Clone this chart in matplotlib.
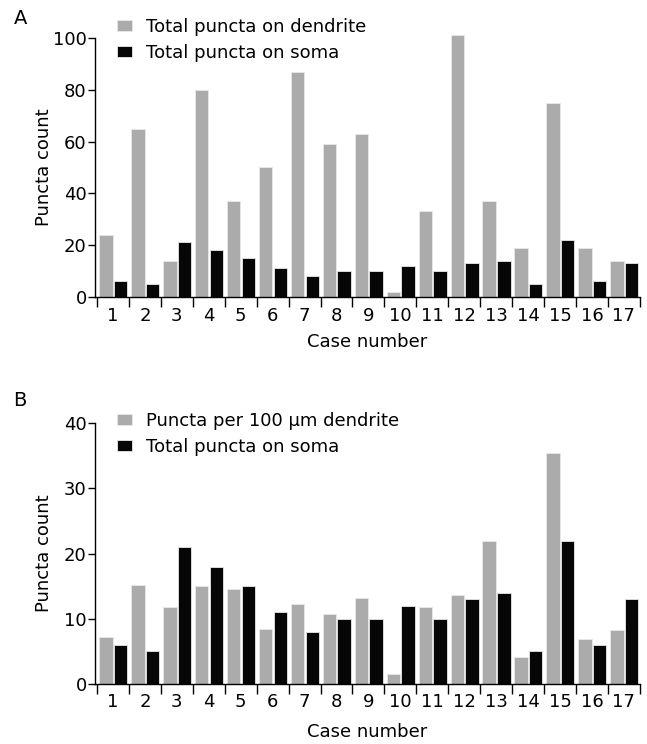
import numpy as np
import matplotlib.pyplot as plt

plt.rcParams['font.family'] = ['DejaVu Sans']

cases = list(range(1, 18))
dendrite_total = [24, 65, 14, 80, 37, 50, 87, 59, 63, 2, 33, 101, 37, 19, 75, 19, 14]
soma_total = [6, 5, 21, 18, 15, 11, 8, 10, 10, 12, 10, 13, 14, 5, 22, 6, 13]
dendrite_per100 = [7.2, 15.2, 11.8, 15.0, 14.5, 8.4, 12.3, 10.7, 13.2, 1.5,
                   11.8, 13.6, 21.9, 4.1, 35.5, 6.9, 8.3]

GREY = '#ababab'
BLACK = '#060606'
FS = 13


def draw_panel(ax, grey_vals, black_vals, grey_label, ymax, ystep, leg_top, xpad):
    x = np.array(cases)
    ax.bar(x - 0.22, grey_vals, width=0.42, color=GREY, edgecolor='#e8e8e8',
           linewidth=0.6, label=grey_label, clip_on=False)
    ax.bar(x + 0.24, black_vals, width=0.42, color=BLACK, edgecolor='#e8e8e8',
           linewidth=0.6, label='Total puncta on soma', clip_on=False)
    ax.set_xlim(0.44, 17.5)
    ax.set_ylim(0, ymax)
    ax.set_yticks(np.arange(0, ymax + 1, ystep))
    # boundary ticks (major) and centred labels (minor)
    ax.set_xticks(np.arange(0.5, 18, 1))
    ax.set_xticklabels([])
    ax.set_xticks(x, minor=True)
    ax.set_xticklabels([str(c) for c in cases], minor=True)
    ax.tick_params(axis='x', which='major', length=7, width=1, direction='out')
    ax.tick_params(axis='x', which='minor', length=0, pad=7, labelsize=FS)
    ax.tick_params(axis='y', length=5, width=1, labelsize=FS, pad=1)
    for s in ['top', 'right']:
        ax.spines[s].set_visible(False)
    for s in ['left', 'bottom']:
        ax.spines[s].set_linewidth(1)
    ax.set_xlabel('Case number', fontsize=FS, labelpad=xpad)
    ax.set_ylabel('Puncta count', fontsize=FS)
    ax.yaxis.set_label_coords(-0.078, 0.5)
    ax.legend(loc='upper left', bbox_to_anchor=(117 / 647, leg_top),
              bbox_transform=ax.figure.transFigure, frameon=False,
              fontsize=FS, handlelength=0.83, handleheight=0.55,
              handletextpad=0.8, labelspacing=0.42, borderpad=0,
              borderaxespad=0)


fig = plt.figure(figsize=(6.47, 7.44), dpi=100)
ax1 = fig.add_axes([0.147, 0.601, 0.842, 0.348])
ax2 = fig.add_axes([0.147, 0.081, 0.842, 0.350])

draw_panel(ax1, dendrite_total, soma_total, 'Total puncta on dendrite',
           100, 20, 1 - 18 / 744, 6)
draw_panel(ax2, dendrite_per100, soma_total, 'Puncta per 100 µm dendrite',
           40, 10, 1 - 412 / 744, 8)

fig.text(0.021, 0.988, 'A', fontsize=14, va='top')
fig.text(0.021, 0.4745, 'B', fontsize=14, va='top')

fig.savefig('out.png', dpi=100)
